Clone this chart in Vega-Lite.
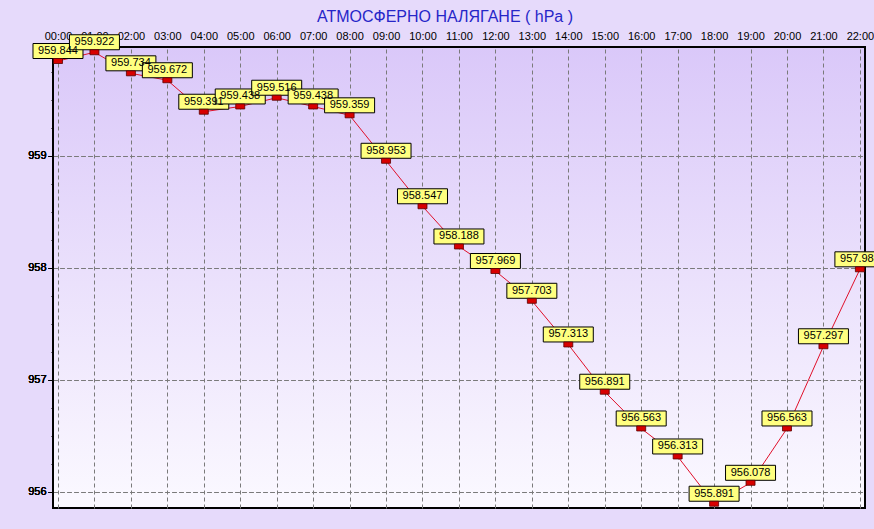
{
  "$schema": "https://vega.github.io/schema/vega-lite/v6.json",
  "autosize": "none",
  "width": 812,
  "height": 461,
  "padding": {"left": 53, "top": 47, "right": 9, "bottom": 21},
  "background": "#e6dafb",
  "title": {
    "text": "АТМОСФЕРНО НАЛЯГАНЕ  ( hPa )",
    "color": "#2626c8",
    "font": "Liberation Sans",
    "fontSize": 16,
    "fontWeight": "normal",
    "anchor": "middle",
    "dx": -14,
    "offset": 5
  },
  "data": {
    "values": [
      {"t": 0, "p": 959.844},
      {"t": 1, "p": 959.922},
      {"t": 2, "p": 959.734},
      {"t": 3, "p": 959.672},
      {"t": 4, "p": 959.391},
      {"t": 5, "p": 959.438},
      {"t": 6, "p": 959.516},
      {"t": 7, "p": 959.438},
      {"t": 8, "p": 959.359},
      {"t": 9, "p": 958.953},
      {"t": 10, "p": 958.547},
      {"t": 11, "p": 958.188},
      {"t": 12, "p": 957.969},
      {"t": 13, "p": 957.703},
      {"t": 14, "p": 957.313},
      {"t": 15, "p": 956.891},
      {"t": 16, "p": 956.563},
      {"t": 17, "p": 956.313},
      {"t": 18, "p": 955.891},
      {"t": 19, "p": 956.078},
      {"t": 20, "p": 956.563},
      {"t": 21, "p": 957.297},
      {"t": 22, "p": 957.984}
    ]
  },
  "encoding": {
    "x": {
      "field": "t",
      "type": "quantitative",
      "scale": {"domain": [-0.137, 22.14], "nice": false, "zero": false},
      "axis": {
        "orient": "top",
        "title": null,
        "values": [0,1,2,3,4,5,6,7,8,9,10,11,12,13,14,15,16,17,18,19,20,21,22],
        "labelExpr": "(datum.value < 10 ? '0' : '') + datum.value + ':00'",
        "labelFlush": false,
        "labelOverlap": false,
        "ticks": false,
        "tickSize": 0,
        "labelPadding": 6,
        "domain": false,
        "grid": true,
        "gridColor": "#7a7a7a",
        "gridDash": [4, 3],
        "gridWidth": 1
      }
    },
    "y": {
      "field": "p",
      "type": "quantitative",
      "scale": {"domain": [955.853, 959.969], "nice": false, "zero": false},
      "axis": {
        "orient": "left",
        "title": null,
        "values": [956, 957, 958, 959],
        "format": "d",
        "tickSize": 5,
        "tickColor": "#000000",
        "labelPadding": 2,
        "domain": false,
        "grid": true,
        "gridColor": "#7a7a7a",
        "gridDash": [4, 3],
        "gridWidth": 1
      }
    }
  },
  "layer": [
    {
      "mark": {"type": "line", "color": "#e0102a", "strokeWidth": 1, "clip": false}
    },
    {
      "mark": {"type": "rect", "width": 50, "height": 15, "yOffset": -10, "fill": "#ffff80", "stroke": "#000000", "strokeWidth": 1}
    },
    {
      "mark": {"type": "text", "yOffset": -10, "baseline": "middle", "align": "center", "font": "Liberation Sans", "fontSize": 11, "color": "#000000"},
      "encoding": {"text": {"field": "p", "type": "quantitative", "format": ".3f"}}
    },
    {
      "mark": {"type": "rect", "width": 9, "height": 5, "fill": "#d80000", "stroke": "#5a0000", "strokeWidth": 0.8}
    },
    {
      "mark": {"type": "tick", "opacity": 0},
      "encoding": {
        "y": {
          "field": "p",
          "type": "quantitative",
          "axis": {
            "orient": "left",
            "title": null,
            "values": [956.25, 956.5, 956.75, 957.25, 957.5, 957.75, 958.25, 958.5, 958.75, 959.25, 959.5, 959.75],
            "labels": false,
            "grid": false,
            "domain": false,
            "tickSize": 2,
            "tickColor": "#000000"
          }
        }
      }
    }
  ],
  "resolve": {"axis": {"y": "independent"}},
  "config": {
    "view": {
      "stroke": "#000000",
      "strokeWidth": 2,
      "fill": {
        "gradient": "linear",
        "x1": 0, "y1": 0, "x2": 0, "y2": 1,
        "stops": [
          {"offset": 0, "color": "#dac8f9"},
          {"offset": 1, "color": "#fbf9ff"}
        ]
      }
    },
    "axis": {
      "labelFont": "Liberation Sans",
      "labelFontSize": 11,
      "labelColor": "#000000"
    }
  }
}
